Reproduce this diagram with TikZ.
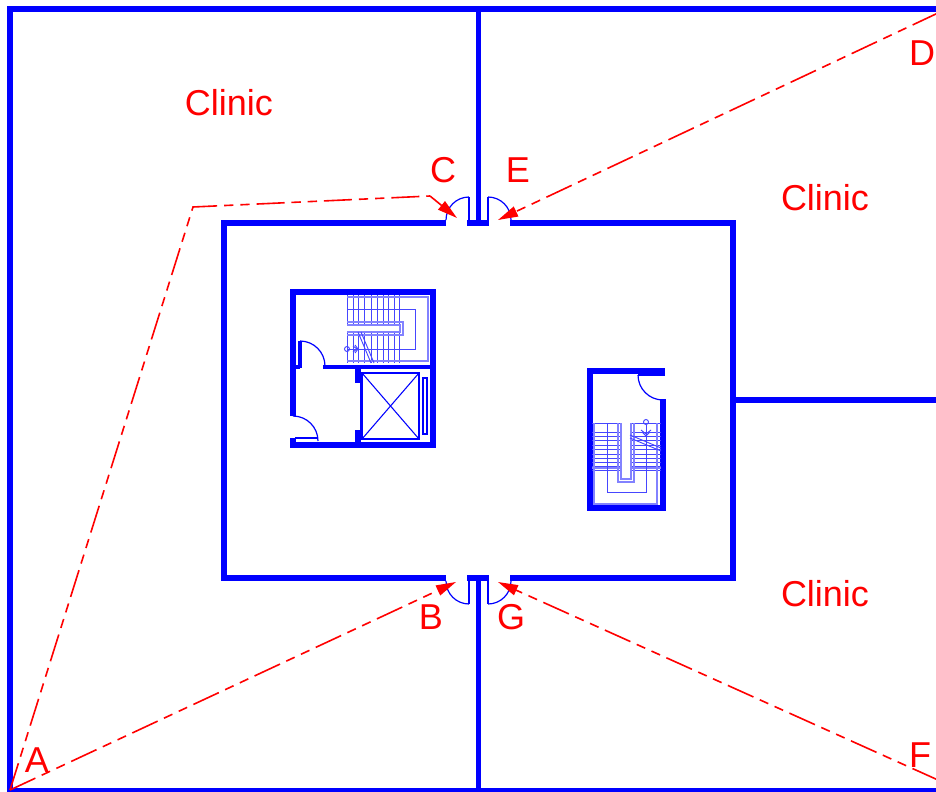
\documentclass[tikz,border=0pt]{standalone}
\usepackage{fontspec}
\setmainfont{Liberation Sans}
\usetikzlibrary{arrows.meta}
\definecolor{wallblue}{RGB}{0,0,255}
\definecolor{stairblue}{RGB}{130,130,255}
\definecolor{treadblue}{RGB}{70,70,255}
\definecolor{sightred}{RGB}{255,0,0}
\tikzset{
    wall/.style={draw=wallblue, line width=4pt, line cap=butt, line join=miter},
    partition/.style={draw=wallblue, line width=2.6pt},
    thinline/.style={draw=wallblue, line width=0.8pt},
    treadline/.style={draw=treadblue, line width=0.7pt},
    stairline/.style={draw=stairblue, line width=1pt},
    doorswing/.style={draw=wallblue, line width=0.9pt},
    sightline/.style={draw=sightred, line width=1.2pt, dash pattern=on 21pt off 5.2pt on 7pt off 5.2pt on 7pt off 5.2pt},
    sightarrow/.style={draw=sightred, line width=1.2pt, -{Triangle[length=15pt,width=8pt]}},
    sightdash/.style={sightline, -{Triangle[length=15pt,width=8pt]}},
    maplabel/.style={text=sightred, font=\fontsize{27}{27}\selectfont, inner sep=0pt}
}
\begin{document}
\begin{tikzpicture}[x=0.75pt, y=-0.75pt]
    \useasboundingbox (0,0) rectangle (936,792);

    \draw[wall] (940,9) -- (10,9) -- (10,791) -- (940,791);
    \draw[wall] (478.5,9) -- (478.5,223);
    \draw[wall] (478.5,578) -- (478.5,791);
    \draw[wall] (733,400) -- (940,400);
    \draw[wall] (446,223) -- (224,223) -- (224,578) -- (446,578);
    \draw[wall] (510,223) -- (733,223) -- (733,578) -- (510,578);
    \draw[wall] (467,223) -- (489,223);
    \draw[wall] (467,578) -- (489,578);

    \draw[thinline, line width=1.5pt] (469,197) -- (469,222);
    \draw[thinline, line width=1.5pt] (488,197) -- (488,222);
    \draw[thinline, line width=1.5pt] (469,579) -- (469,604);
    \draw[thinline, line width=1.5pt] (488,579) -- (488,604);
    \draw[doorswing] (469,197) arc[start angle=-90, end angle=-180, radius=23];
    \draw[doorswing] (488,197) arc[start angle=-90, end angle=0, radius=23];
    \draw[doorswing] (469,604) arc[start angle=90, end angle=180, radius=23];
    \draw[doorswing] (488,604) arc[start angle=90, end angle=0, radius=23];

    \draw[wall] (293,367) -- (293,292) -- (433,292) -- (433,445) -- (293,445) -- (293,438);
    \draw[wall] (293,367) -- (293,416);
    \draw[partition] (291,367) -- (300,367);
    \draw[partition] (323,367) -- (433,367);
    \draw[partition] (300,341) -- (300,368);
    \draw[wall] (358,367) -- (358,383);
    \draw[wall] (358,430) -- (358,445);
    \draw[thinline, line width=1.3pt] (360.5,383) -- (360.5,430);
    \draw[doorswing] (300,341) arc[start angle=-90, end angle=0, radius=25];
    \draw[doorswing] (293,416) arc[start angle=-90, end angle=0, radius=25];
    \draw[thinline] (295,438) -- (318,438);

    \draw[thinline] (362,373) rectangle (419,439);
    \draw[thinline] (362,373) -- (419,439);
    \draw[thinline] (362,439) -- (419,373);
    \draw[thinline] (423,378) rectangle (427,434);

    \foreach \tx in {347,353,358,364,371,377,383,388,394,399} {
        \draw[treadline] (\tx,295) -- (\tx,324);
        \draw[treadline] (\tx,333) -- (\tx,363);
    }
    \draw[stairline] (347,297) -- (428,297) -- (428,361) -- (347,361);
    \draw[treadline] (347,309) -- (415,309) -- (415,349) -- (347,349);
    \draw[stairline, line width=1.2pt] (347,322) -- (403,322) -- (403,335) -- (347,335);
    \draw[stairline, line width=1.2pt] (347,325) -- (400,325) -- (400,332) -- (347,332);
    \draw[treadline] (358,332) -- (371,363);
    \draw[treadline] (361,332) -- (374,363);
    \draw[treadline] (347,349) circle[radius=2.5];
    \draw[treadline] (355,345) -- (358,349) -- (355,353);
    \draw[treadline] (353,346) -- (357,349) -- (353,352);

    \draw[wall] (665,371) -- (590,371) -- (590,508) -- (663,508) -- (663,399);
    \draw[partition] (638,374) -- (665,374);
    \draw[doorswing] (638,375) arc[start angle=180, end angle=90, radius=25];

    \foreach \ty in {423,432,436,440,445,449,454,458,462,466,470} {
        \draw[treadline] (592,\ty) -- (621,\ty);
        \draw[treadline] (631,\ty) -- (661,\ty);
    }
    \draw[stairline] (592,468) -- (621,468);
    \draw[stairline] (631,468) -- (661,468);
    \draw[stairline, line width=1.2pt] (621,423) -- (621,479) -- (631,479) -- (631,423);
    \draw[stairline, line width=1.2pt] (618,423) -- (618,482) -- (634,482) -- (634,423);
    \draw[treadline] (607,423) -- (607,492) -- (646,492) -- (646,425);
    \draw[stairline] (594,423) -- (594,504) -- (657,504) -- (657,423);
    \draw[treadline] (630,435) -- (661,448);
    \draw[treadline] (630,438) -- (661,451);
    \draw[treadline] (646,422) circle[radius=2.5];
    \draw[treadline] (641,430) -- (646,434) -- (651,430);
    \draw[treadline] (642,432) -- (646,436) -- (650,432);

    \coordinate (cornerA) at (10,790);
    \coordinate (bendA) at (193,207);
    \coordinate (bendC) at (430,196);
    \coordinate (tipB) at (456,582);
    \coordinate (tipC) at (457,218);
    \coordinate (cornerD) at (938,13);
    \coordinate (tipE) at (498,220);
    \coordinate (cornerF) at (938,780);
    \coordinate (tipG) at (498,582);

    \draw[sightline] (cornerA) -- (bendA) -- (bendC);
    \draw[sightarrow] (bendC) -- (tipC);
    \draw[sightdash] (cornerA) -- (tipB);
    \draw[sightdash] (cornerD) -- (tipE);
    \draw[sightdash] (cornerF) -- (tipG);

    \node[maplabel] (clinicnw) at (229,103) {Clinic};
    \node[maplabel] (clinicne) at (825,198) {Clinic};
    \node[maplabel] (clinicse) at (825,594) {Clinic};
    \node[maplabel] (labelA) at (37,760) {A};
    \node[maplabel] (labelB) at (431,617) {B};
    \node[maplabel] (labelC) at (443,170) {C};
    \node[maplabel] (labelD) at (922,53) {D};
    \node[maplabel] (labelE) at (518,170) {E};
    \node[maplabel] (labelF) at (920,755) {F};
    \node[maplabel] (labelG) at (511,617) {G};
\end{tikzpicture}
\end{document}
